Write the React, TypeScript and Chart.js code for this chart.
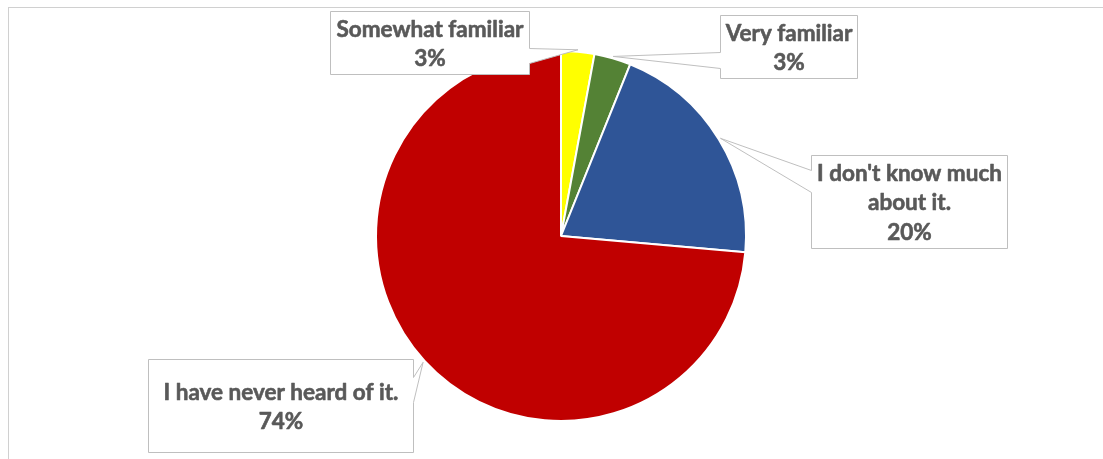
import React, { useEffect, useRef } from "react";
import { Chart, registerables } from "chart.js";

Chart.register(...registerables);

const categories = [
  "Somewhat familiar",
  "Very familiar",
  "I don't know much about it.",
  "I have never heard of it.",
];
const values = [2.9, 3.2, 20.3, 73.6];
const colors = ["#FFFF00", "#548235", "#2F5597", "#C00000"];

// callout layout (canvas coords): box [x0,y0,x1,y1], side of tail, tail attach points
const callouts = [
  { box: [321, 3, 520, 66], side: "right", attach: [40, 55] },
  { box: [711, 7, 848, 70], side: "left", attach: [44, 60] },
  { box: [802, 147, 998, 240], side: "left", attach: [162, 184] },
  { box: [139, 351, 404, 444], side: "right", attach: [369, 394] },
];

const FONT = "bold 22.5px Lato";
const LINE_H = 29.5;

function wrap(ctx: CanvasRenderingContext2D, text: string, maxW: number): string[] {
  const words = text.split(" ");
  const lines: string[] = [];
  let cur = "";
  for (const w of words) {
    const t = cur ? cur + " " + w : w;
    if (cur && ctx.measureText(t).width > maxW) {
      lines.push(cur);
      cur = w;
    } else cur = t;
  }
  if (cur) lines.push(cur);
  return lines;
}

const calloutPlugin = {
  id: "callouts",
  afterDatasetsDraw(chart: any) {
    const ctx: CanvasRenderingContext2D = chart.ctx;
    const meta = chart.getDatasetMeta(0);
    const data: number[] = chart.data.datasets[0].data;
    const total = data.reduce((a, b) => a + b, 0);
    ctx.save();
    meta.data.forEach((arc: any, i: number) => {
      const c = callouts[i];
      if (!c) return;
      const { x, y, startAngle, endAngle, outerRadius } = arc.getProps(
        ["x", "y", "startAngle", "endAngle", "outerRadius"],
        true
      );
      const mid = (startAngle + endAngle) / 2;
      const tx = x + Math.cos(mid) * (outerRadius + 2);
      const ty = y + Math.sin(mid) * (outerRadius + 2);
      const [x0, y0, x1, y1] = c.box.map((v: number) => v + 0.5);
      const [a1, a2] = c.attach.map((v: number) => v + 0.5);
      ctx.beginPath();
      ctx.moveTo(x0, y0);
      ctx.lineTo(x1, y0);
      if (c.side === "right") {
        ctx.lineTo(x1, a1);
        ctx.lineTo(tx, ty);
        ctx.lineTo(x1, a2);
      }
      ctx.lineTo(x1, y1);
      ctx.lineTo(x0, y1);
      if (c.side === "left") {
        ctx.lineTo(x0, a2);
        ctx.lineTo(tx, ty);
        ctx.lineTo(x0, a1);
      }
      ctx.closePath();
      ctx.fillStyle = "#FFFFFF";
      ctx.fill();
      ctx.strokeStyle = "#BFBFBF";
      ctx.lineWidth = 1;
      ctx.stroke();

      ctx.font = FONT;
      ctx.fillStyle = "#595959";
      ctx.strokeStyle = "#595959";
      ctx.lineWidth = 0.6;
      ctx.lineJoin = "round";
      ctx.textAlign = "center";
      ctx.textBaseline = "middle";
      const pct = Math.round((data[i] / total) * 100) + "%";
      const lines = [...wrap(ctx, chart.data.labels[i], x1 - x0 - 4), pct];
      const cx = (x0 + x1) / 2;
      const cy = (y0 + y1) / 2;
      const startY = cy - ((lines.length - 1) * LINE_H) / 2;
      lines.forEach((ln, k) => {
        ctx.fillText(ln, cx, startY + k * LINE_H + 1);
        ctx.strokeText(ln, cx, startY + k * LINE_H + 1);
      });
    });
    ctx.restore();
  },
};

export default function App() {
  const ref = useRef<HTMLCanvasElement | null>(null);
  useEffect(() => {
    document.documentElement.style.overflow = "hidden";
    document.body.style.overflow = "hidden";
    if (!ref.current) return;
    const chart = new Chart(ref.current, {
      type: "pie",
      data: {
        labels: categories,
        datasets: [
          {
            data: values,
            backgroundColor: colors,
            borderColor: "#FFFFFF",
            borderWidth: 2,
            hoverOffset: 0,
            radius: 185,
          } as any,
        ],
      },
      options: {
        responsive: false,
        animation: false,
        events: [],
        layout: { padding: { left: 4, right: 0, top: 5, bottom: 0 } },
        plugins: {
          legend: { display: false },
          tooltip: { enabled: false },
        },
      },
      plugins: [calloutPlugin],
    });
    return () => chart.destroy();
  }, []);
  return (
    <div
      style={{
        position: "absolute",
        left: 8,
        top: 7,
        width: 1100,
        height: 460,
        borderTop: "1px solid #D0D0D0",
        borderLeft: "1px solid #D0D0D0",
        background: "#FFFFFF",
        overflow: "hidden",
      }}
    >
      <canvas ref={ref} width={1100} height={451} style={{ display: "block" }} />
    </div>
  );
}
